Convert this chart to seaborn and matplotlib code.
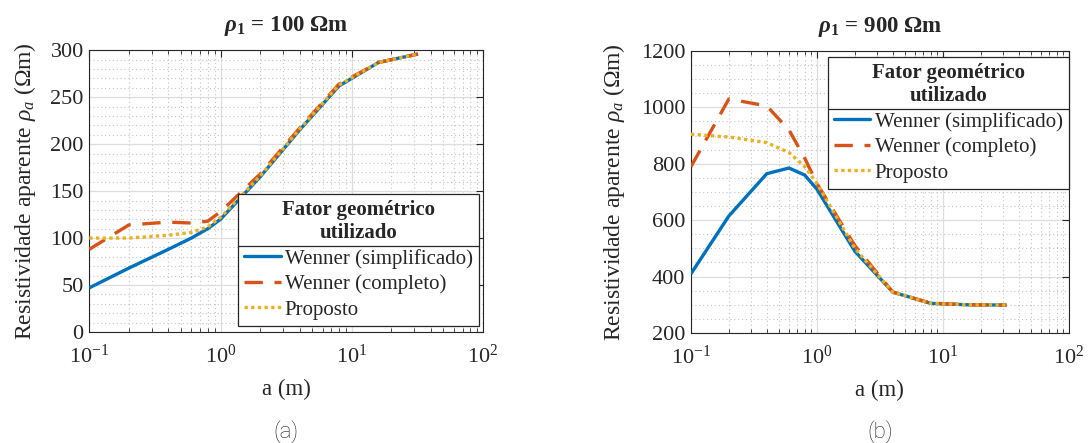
import numpy as np
import pandas as pd
import matplotlib
matplotlib.use("Agg")
import matplotlib.pyplot as plt
import seaborn as sns
from matplotlib.ticker import LogLocator, LogFormatterMathtext, MultipleLocator, NullFormatter
from matplotlib.lines import Line2D

# espaçamento entre eletrodos (m)
a_m = [0.1, 0.2, 0.4, 0.6, 0.8, 1, 2, 4, 8, 16, 32]

# rho_1 = 100 Ohm.m
r100_simpl = [47, 68, 88, 100, 110, 120, 165, 215, 262, 287, 296]
r100_compl = [88, 114, 117, 116, 118, 128, 168, 217, 264, 287, 296]
r100_prop = [100, 100, 103, 106, 112, 122, 166, 216, 263, 287, 296]

# rho_1 = 900 Ohm.m
r900_simpl = [410, 615, 765, 785, 760, 710, 490, 345, 305, 300, 299]
r900_compl = [790, 1030, 1005, 920, 820, 730, 510, 345, 306, 300, 299]
r900_prop = [905, 895, 875, 840, 790, 730, 500, 345, 305, 300, 299]

series = ["Wenner (simplificado)", "Wenner (completo)", "Proposto"]
colors = ["#0072BD", "#D95319", "#EDB120"]
dash_map = {series[0]: "", series[1]: (5.5, 3.5), series[2]: (1, 1)}

titles = [r"$\mathbfit{\rho}_{\mathbf{1}}$ = 100 Ωm", r"$\mathbfit{\rho}_{\mathbf{1}}$ = 900 Ωm"]
captions = ["(a)", "(b)"]

sns.set_style("white")
plt.rcParams["font.family"] = ["Liberation Serif", "DejaVu Serif"]
plt.rcParams["mathtext.fontset"] = "custom"
plt.rcParams["mathtext.rm"] = "Liberation Serif"
plt.rcParams["mathtext.it"] = "Liberation Serif:italic"
plt.rcParams["mathtext.bf"] = "Liberation Serif:bold"
plt.rcParams["mathtext.bfit"] = "Liberation Serif:italic:bold"


def long_df(simpl, compl, prop):
    rows = []
    for name, vals in zip(series, [simpl, compl, prop]):
        for x, y in zip(a_m, vals):
            rows.append({"a": x, "rho": y, "fator": name})
    return pd.DataFrame(rows)


fig = plt.figure(figsize=(10.89, 4.43), dpi=100)
ax1 = fig.add_axes([0.082, 0.2506, 0.3615, 0.636])
ax2 = fig.add_axes([0.6345, 0.2483, 0.347, 0.6366])

configs = [
    (ax1, long_df(r100_simpl, r100_compl, r100_prop), (0, 300), 50, 10, "lower right", (0.99, 0.022), -0.13),
    (ax2, long_df(r900_simpl, r900_compl, r900_prop), (200, 1200), 200, 50, "upper right", (1.0, 0.98), -0.17),
]

legends = []
for i, (ax, df, ylim, ymaj, ymin, loc, anchor, lab_x) in enumerate(configs):
    sns.lineplot(data=df, x="a", y="rho", hue="fator", style="fator",
                 palette=colors, dashes=dash_map, hue_order=series, style_order=series,
                 linewidth=2.4, legend=False, ax=ax, zorder=3)
    for ln in ax.get_lines():
        ln.set_dash_capstyle("butt")
        ln.set_solid_capstyle("butt")
    ax.set_xscale("log")
    ax.set_xlim(0.1, 100)
    ax.set_ylim(*ylim)
    ax.xaxis.set_major_locator(LogLocator(base=10, numticks=10))
    ax.xaxis.set_minor_locator(LogLocator(base=10, subs=np.arange(2, 10), numticks=20))
    ax.xaxis.set_major_formatter(LogFormatterMathtext())
    ax.xaxis.set_minor_formatter(NullFormatter())
    ax.yaxis.set_major_locator(MultipleLocator(ymaj))
    ax.yaxis.set_minor_locator(MultipleLocator(ymin))

    ax.grid(which="major", color="#dedede", linestyle="-", linewidth=0.9, zorder=0)
    ax.grid(which="minor", color="#c4c4c4", linestyle=(0, (1, 2.5)), linewidth=0.8, zorder=0)
    ax.set_axisbelow(True)
    ax.tick_params(which="major", direction="in", length=5, width=0.8, top=True, right=True,
                   labelsize=16, colors="#262626", pad=4)
    ax.tick_params(axis="x", which="major", pad=9)
    ax.tick_params(axis="x", which="minor", direction="in", length=3, width=0.6, top=True, bottom=True)
    ax.tick_params(axis="y", which="minor", length=0)
    for sp in ax.spines.values():
        sp.set_color("#262626")
        sp.set_linewidth(0.8)

    ax.set_xlabel("a (m)", fontsize=16.5, color="#262626", labelpad=8)
    ax.set_ylabel(r"Resistividade aparente $\rho_a$ ($\Omega$m)", fontsize=17, color="#262626")
    ax.yaxis.set_label_coords(lab_x, 0.5)
    ax.set_title(titles[i], fontsize=16.5, fontweight="bold", pad=14)

    handles = [Line2D([], [], color=c, linewidth=2.4,
                      linestyle="-" if dash_map[s] == "" else (0, dash_map[s]),
                      dash_capstyle="butt") for s, c in zip(series, colors)]
    leg = ax.legend(handles, series, title="Fator geométrico\nutilizado", loc=loc,
                    bbox_to_anchor=anchor, borderaxespad=0.0, fontsize=15,
                    title_fontproperties={"weight": "bold", "size": 15},
                    frameon=True, fancybox=False, framealpha=1, edgecolor="#262626",
                    handlelength=1.75, handletextpad=0.2, labelspacing=0.28,
                    borderpad=0.3)
    leg.get_title().set_multialignment("center")
    leg.get_frame().set_linewidth(0.9)
    leg.set_zorder(5)
    legends.append(leg)

    fig.text(ax.get_position().x0 + ax.get_position().width / 2, 0.026, captions[i],
             ha="center", va="center", fontsize=16, color="#222222",
             family=["Roboto", "DejaVu Sans"], fontweight="light")

# linha separando o título da legenda das entradas (estilo MATLAB)
fig.canvas.draw()
inv = fig.transFigure.inverted()
for leg in legends:
    fb = leg.get_frame().get_window_extent()
    tb = leg.get_title().get_window_extent()
    first = leg.get_texts()[0].get_window_extent()
    y = (tb.y0 + first.y1) / 2
    (x0, yf), (x1, _) = inv.transform([(fb.x0, y), (fb.x1, y)])
    fig.add_artist(Line2D([x0, x1], [yf, yf], color="#262626", linewidth=0.9, zorder=10))

fig.savefig("out.png", dpi=100)
